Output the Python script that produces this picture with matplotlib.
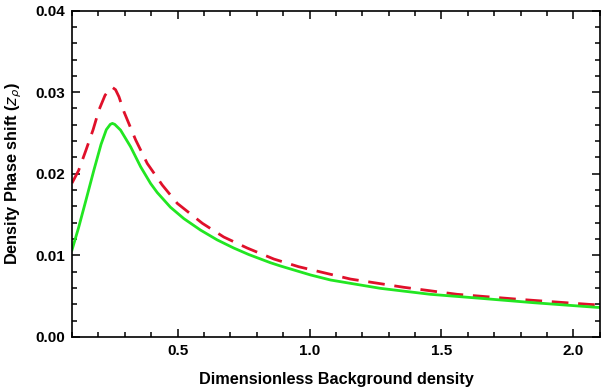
import matplotlib
matplotlib.use("Agg")
import matplotlib.pyplot as plt
from matplotlib.ticker import MultipleLocator

plt.rcParams['font.family'] = ['Liberation Sans', 'DejaVu Sans']
plt.rcParams['mathtext.fontset'] = 'dejavusans'

# Dimensionless background density
x_green = [0.100, 0.125, 0.153, 0.183, 0.210, 0.230, 0.245, 0.253, 0.262, 0.284, 0.322, 0.360,
           0.398, 0.423, 0.473, 0.524, 0.587, 0.650, 0.713, 0.770, 0.852, 0.890, 1.004, 1.080,
           1.269, 1.458, 1.648, 1.850, 2.090, 2.100]
y_green = [0.01066, 0.01340, 0.01678, 0.02045, 0.02360, 0.02540, 0.02605, 0.02617, 0.02605, 0.02535,
           0.02331, 0.02086, 0.01880, 0.01770, 0.01590, 0.01450, 0.01310, 0.01190, 0.01090, 0.01010,
           0.00910, 0.00870, 0.00760, 0.00698, 0.00596, 0.00523, 0.00474, 0.00420, 0.00363, 0.00362]

x_red = [0.100, 0.125, 0.153, 0.180, 0.202, 0.225, 0.243, 0.253, 0.265, 0.278, 0.297, 0.341,
         0.385, 0.442, 0.499, 0.594, 0.675, 0.764, 0.865, 0.959, 1.155, 1.357, 1.559, 1.800,
         2.058, 2.100]
y_red = [0.01886, 0.02040, 0.02290, 0.02540, 0.02780, 0.02960, 0.03040, 0.03058, 0.03030, 0.02943,
         0.02759, 0.02416, 0.02127, 0.01862, 0.01637, 0.01393, 0.01225, 0.01090, 0.00955, 0.00861,
         0.00710, 0.00609, 0.00523, 0.00460, 0.00400, 0.00392]

x_ticks = [0.5, 1.0, 1.5, 2.0]
y_ticks = [0.00, 0.01, 0.02, 0.03, 0.04]

fig = plt.figure(figsize=(6.01, 3.90), dpi=100)
ax = fig.add_axes([0.1198, 0.1359, 0.8782, 0.8371])

ax.plot(x_red, y_red, color='#e0102a', lw=2.0, dashes=(6, 3.5))
ax.plot(x_green, y_green, color='#22e622', lw=2.0)

ax.set_xlim(0.1, 2.1)
ax.set_ylim(0.0, 0.04)
ax.set_xticks(x_ticks)
ax.set_xticklabels([f"{v:.1f}" for v in x_ticks])
ax.set_yticks(y_ticks)
ax.set_yticklabels([f"{v:.2f}" for v in y_ticks])
ax.xaxis.set_minor_locator(MultipleLocator(0.1))
ax.yaxis.set_minor_locator(MultipleLocator(0.002))

ax.tick_params(which='both', direction='in', top=True, right=True, width=1.1)
ax.tick_params(which='major', length=6, labelsize=11, pad=5)
ax.tick_params(which='minor', length=3.5)
for lab in ax.get_xticklabels() + ax.get_yticklabels():
    lab.set_fontweight('bold')
for s in ax.spines.values():
    s.set_linewidth(1.2)

ax.set_xlabel('Dimensionless Background density', fontsize=11.7, fontweight='bold', labelpad=10)
ax.set_ylabel(r'Density Phase shift ($z_\rho$)', fontsize=11.7, fontweight='bold', labelpad=8)

fig.savefig('out.png', dpi=100)
